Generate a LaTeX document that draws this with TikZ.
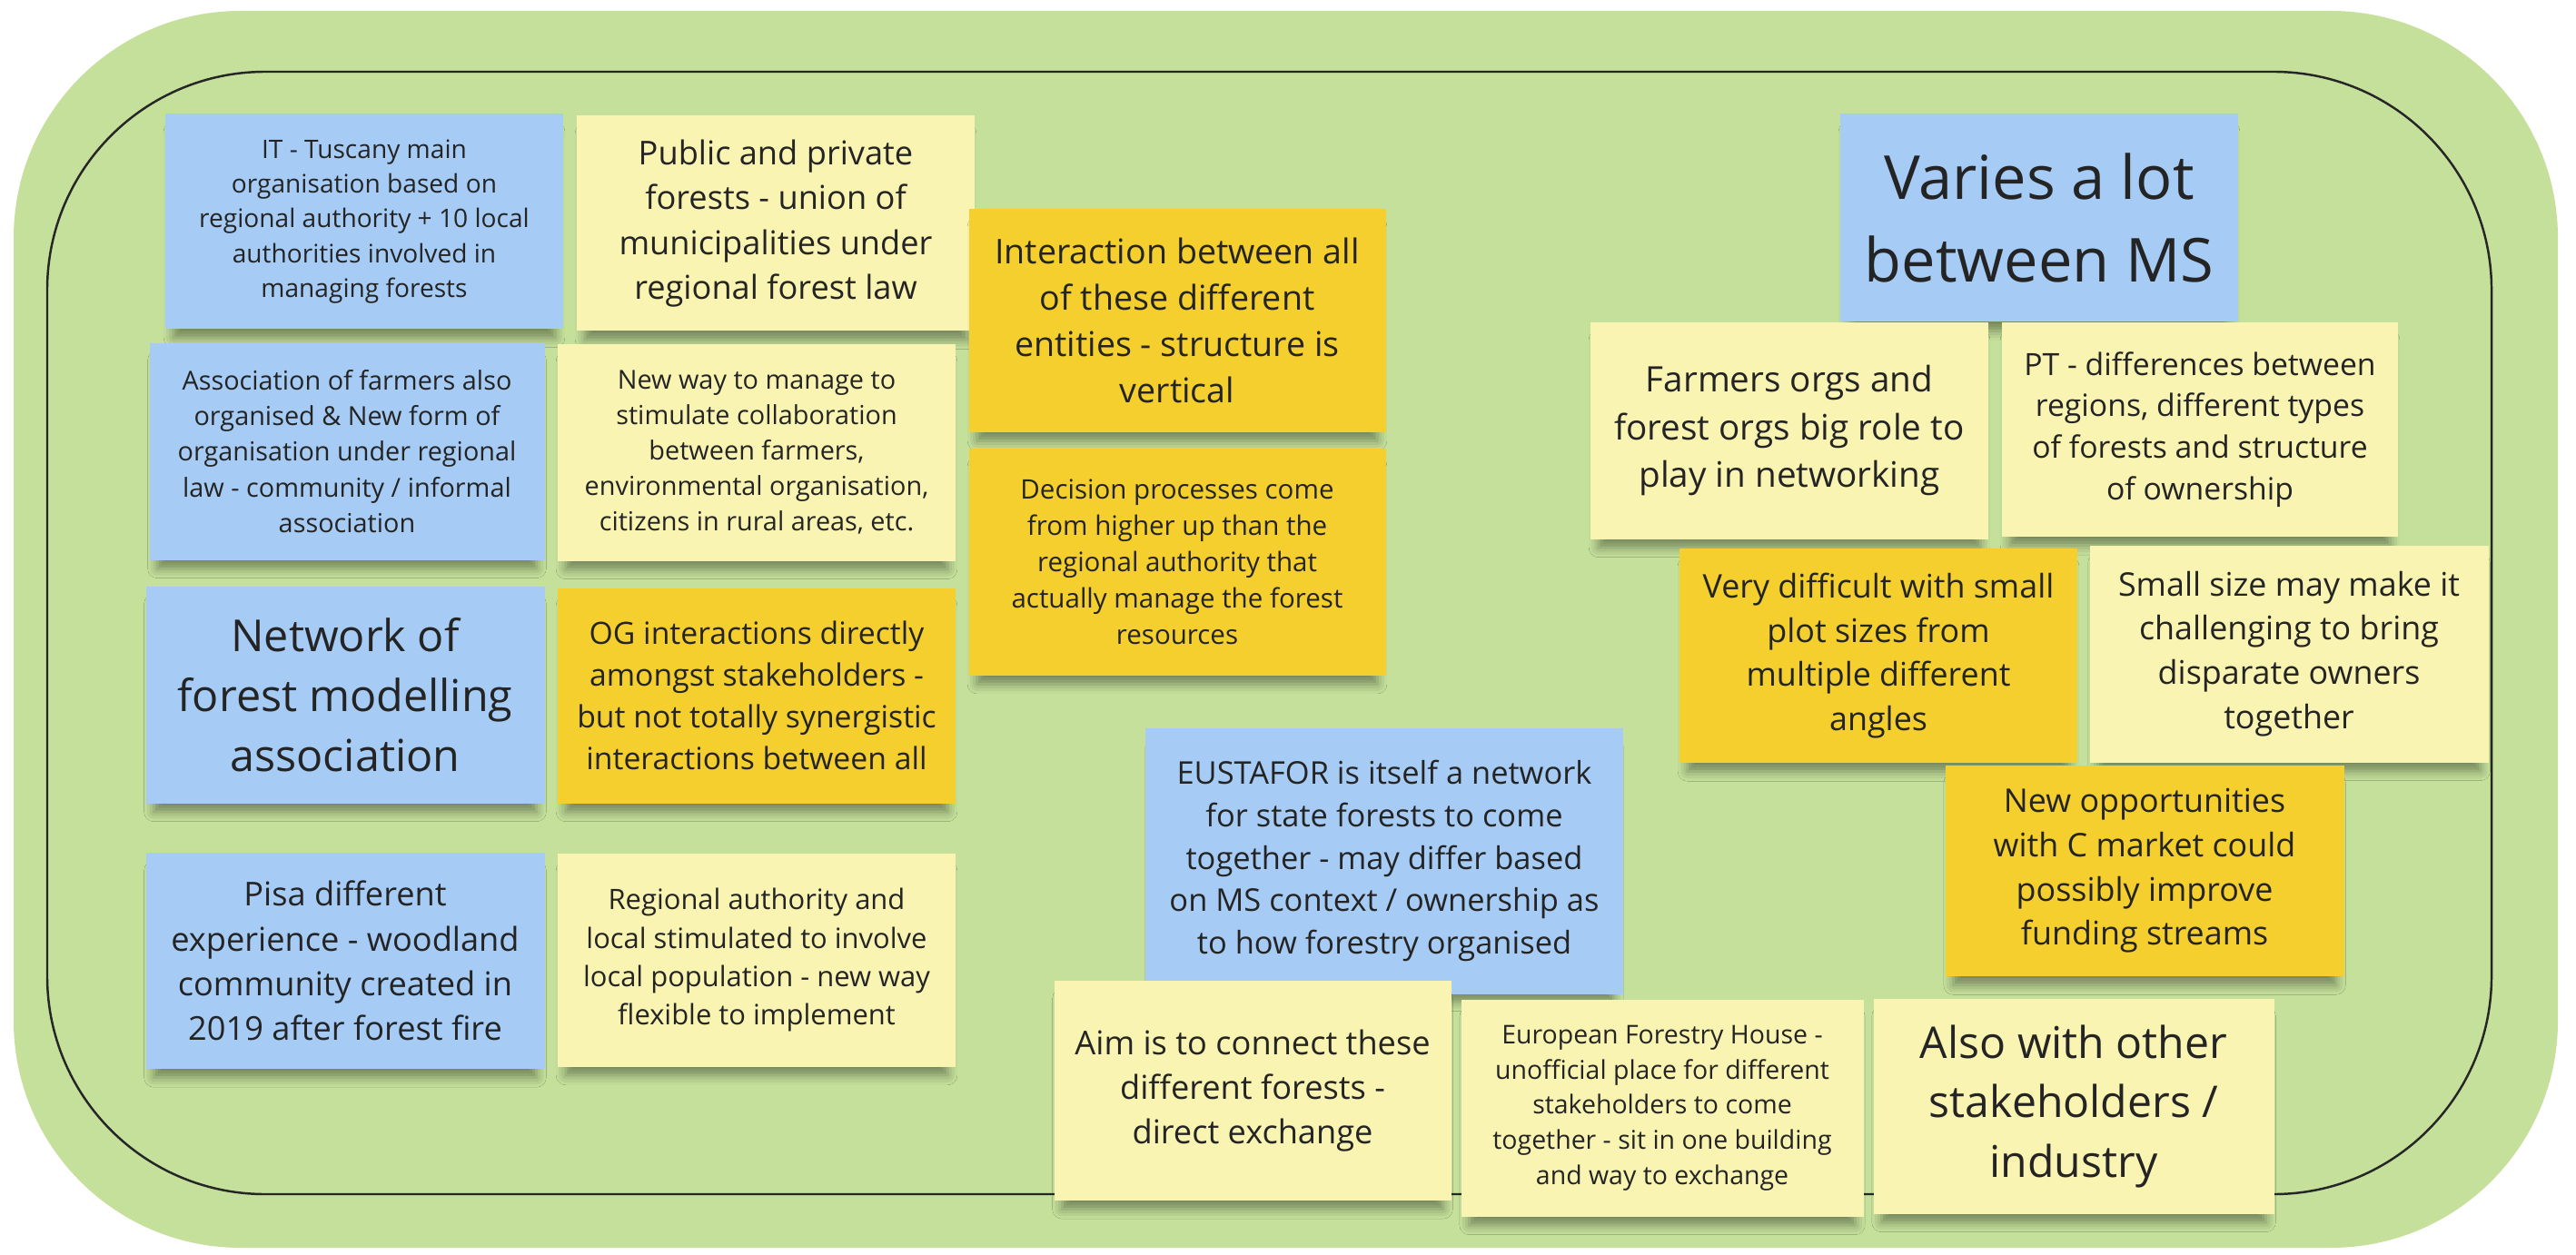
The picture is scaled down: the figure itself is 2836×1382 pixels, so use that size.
\documentclass[tikz,border=0pt]{standalone}
\usepackage{fontspec}
\setmainfont{Open Sans}
\usetikzlibrary{shadows.blur}
\definecolor{boardgreen}{RGB}{197,224,155}
\definecolor{noteblue}{RGB}{166,204,245}
\definecolor{notecream}{RGB}{250,244,178}
\definecolor{noteorange}{RGB}{244,207,45}
\definecolor{notetext}{RGB}{36,36,36}
\newcommand\notefont[1]{\fontsize{#1}{\dimexpr#1*136/100\relax}\selectfont}
\begin{document}
\begin{tikzpicture}[x=0.1mm,y=-0.1mm,
    note/.style={rectangle,inner sep=0pt,align=center,text=notetext,
      minimum width=43.8mm,minimum height=23.7mm,
      blur shadow={shadow xshift=0pt,shadow yshift=-1.5mm,shadow scale=0.96,
        shadow blur radius=1.1mm,shadow opacity=40}},
    bluenote/.style={note,fill=noteblue},
    creamnote/.style={note,fill=notecream},
    orangenote/.style={note,fill=noteorange}]
    \fill[white] (0,0) rectangle (2836,1382);
    \useasboundingbox (0,0) rectangle (2836,1382);
    \fill[boardgreen,rounded corners=25mm] (15,12) rectangle (2816,1374);
    \draw[line width=0.7pt,black!85,rounded corners=24mm] (52,79) rectangle (2743,1315);

    % left columns
    \node[bluenote,font=\notefont{8pt}] (it) at (401,244)
      {IT - Tuscany main\\organisation based on\\regional authority + 10 local\\authorities involved in\\managing forests};
    \node[creamnote,font=\notefont{10.3pt}] (public) at (854,246)
      {Public and private\\forests - union of\\municipalities under\\regional forest law};
    \node[bluenote,font=\notefont{8.2pt},minimum width=43.5mm,minimum height=23.9mm] (assoc) at (382,497)
      {Association of farmers also\\organised \& New form of\\organisation under regional\\law - community / informal\\association};
    \node[creamnote,font=\notefont{8.2pt},minimum height=23.9mm] (newway) at (833,498)
      {New way to manage to\\stimulate collaboration\\between farmers,\\environmental organisation,\\citizens in rural areas, etc.};
    \node[bluenote,font=\notefont{13.8pt},minimum width=43.9mm,minimum height=23.9mm] (network) at (380,765)
      {Network of\\forest modelling\\association};
    \node[orangenote,font=\notefont{9.6pt}] (og) at (833,766)
      {OG interactions directly\\amongst stakeholders -\\but not totally synergistic\\interactions between all};
    \node[bluenote,font=\notefont{10.3pt},minimum width=43.9mm,minimum height=23.8mm] (pisa) at (380,1058)
      {Pisa different\\experience - woodland\\community created in\\2019 after forest fire};
    \node[creamnote,font=\notefont{8.8pt},minimum height=23.5mm] (regional) at (833,1057)
      {Regional authority and\\local stimulated to involve\\local population - new way\\flexible to implement};

    \node[orangenote,font=\notefont{10.7pt},minimum width=45.9mm,minimum height=24.6mm] (interact) at (1296,353)
      {Interaction between all\\of these different\\entities - structure is\\vertical};
    \node[orangenote,font=\notefont{8.4pt},minimum width=45.9mm,minimum height=25mm] (decision) at (1296,619)
      {Decision processes come\\from higher up than the\\regional authority that\\actually manage the forest\\resources};

    % bottom middle
    \node[bluenote,font=\notefont{9.8pt},minimum width=52.6mm,minimum height=29.3mm] (eustafor) at (1524,948)
      {EUSTAFOR is itself a network\\for state forests to come\\together - may differ based\\on MS context / ownership as\\to how forestry organised};
    \node[creamnote,font=\notefont{10.3pt},minimum width=43.7mm,minimum height=24.2mm] (aim) at (1379,1201)
      {Aim is to connect these\\different forests -\\direct exchange};
    \node[creamnote,font=\notefont{8.1pt},minimum width=44.3mm,minimum height=23.9mm] (efh) at (1830,1220)
      {European Forestry House -\\unofficial place for different\\stakeholders to come\\together - sit in one building\\and way to exchange};
    \node[creamnote,font=\notefont{13.7pt},minimum width=44.1mm] (also) at (2283,1218)
      {Also with other\\stakeholders /\\industry};

    % right group
    \node[bluenote,font=\notefont{19pt},minimum height=22.9mm] (varies) at (2245,240)
      {Varies a lot\\between MS};
    \node[creamnote,font=\notefont{11pt},minimum height=23.9mm] (farmers) at (1970,474)
      {Farmers orgs and\\forest orgs big role to\\play in networking};
    \node[creamnote,font=\notefont{9.6pt},minimum width=43.6mm,minimum height=23.6mm] (pt) at (2422,473)
      {PT - differences between\\regions, different types\\of forests and structure\\of ownership};
    \node[orangenote,font=\notefont{10.2pt},minimum height=23.6mm] (difficult) at (2068,722)
      {Very difficult with small\\plot sizes from\\multiple different\\angles};
    \node[creamnote,font=\notefont{10.2pt},minimum width=43.9mm,minimum height=23.9mm] (smallsize) at (2520,720)
      {Small size may make it\\challenging to bring\\disparate owners\\together};
    \node[orangenote,font=\notefont{10.2pt},minimum width=43.9mm,minimum height=23.2mm] (newopp) at (2361,959)
      {New opportunities\\with C market could\\possibly improve\\funding streams};
\end{tikzpicture}
\end{document}
